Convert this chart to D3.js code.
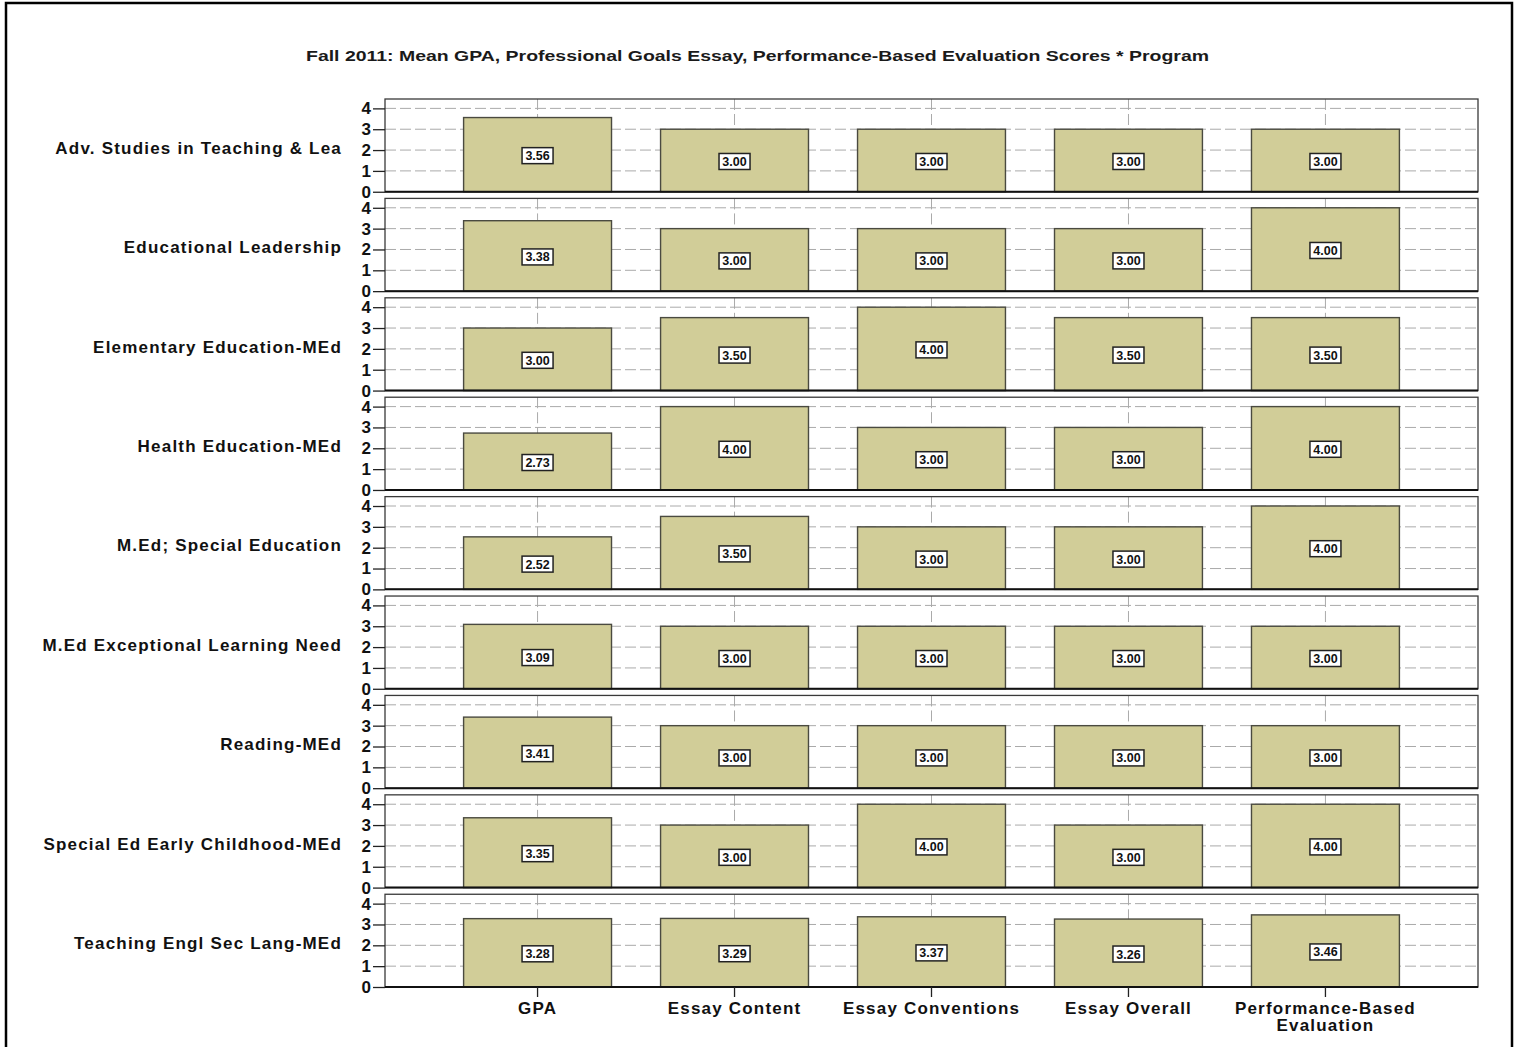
<!DOCTYPE html>
<html><head><meta charset="utf-8">
<script src="https://cdn.jsdelivr.net/npm/d3@7"></script>
<style>body{margin:0;background:#fff}svg{display:block}text{font-family:"Liberation Sans",Arial,sans-serif}</style>
</head><body>
<svg id="c" width="1520" height="1047"></svg>
<script>
const programs = ["Adv. Studies in Teaching & Lea","Educational Leadership","Elementary Education-MEd","Health Education-MEd","M.Ed; Special Education","M.Ed Exceptional Learning Need","Reading-MEd","Special Ed Early Childhood-MEd","Teaching Engl Sec Lang-MEd"];
const measures = ["GPA","Essay Content","Essay Conventions","Essay Overall","Performance-Based Evaluation"];
const gpa = [3.56,3.38,3.00,2.73,2.52,3.09,3.41,3.35,3.28];
const essayContent = [3.00,3.00,3.50,4.00,3.50,3.00,3.00,3.00,3.29];
const essayConventions = [3.00,3.00,4.00,3.00,3.00,3.00,3.00,4.00,3.37];
const essayOverall = [3.00,3.00,3.50,3.00,3.00,3.00,3.00,3.00,3.26];
const performanceBased = [3.00,4.00,3.50,4.00,4.00,3.00,3.00,4.00,3.46];
const yTicks = [0,1,2,3,4];
const title = "Fall 2011: Mean GPA, Professional Goals Essay, Performance-Based Evaluation Scores * Program";

const series = [gpa, essayContent, essayConventions, essayOverall, performanceBased];
const svg = d3.select("#c");

// outer frame
svg.append("rect").attr("x",6).attr("y",3).attr("width",1506).attr("height",1070)
  .attr("fill","none").attr("stroke","#000").attr("stroke-width",2.5);

svg.append("text").attr("x",306).attr("y",61).attr("text-anchor","start")
  .attr("font-size",15.5).attr("font-weight","bold").attr("fill","#1a1a1a")
  .attr("textLength",903).attr("lengthAdjust","spacingAndGlyphs").text(title);

const left = 385, right = 1478;
const rowScale = d3.scaleBand().domain(programs).range([99,987]).paddingInner(0.067).paddingOuter(0);
const x = d3.scaleBand().domain(measures).range([left,right]).paddingInner(0.249).paddingOuter(0.399);
const ph = rowScale.bandwidth();
const y = d3.scaleLinear().domain([0,4.45]).range([ph,0]);

programs.forEach((p,i)=>{
  const g = svg.append("g").attr("transform",`translate(0,${rowScale(p)})`);
  // gridlines
  g.selectAll(".hg").data(yTicks.slice(1)).join("line")
    .attr("x1",left).attr("x2",right).attr("y1",d=>y(d)).attr("y2",d=>y(d))
    .attr("stroke","#aaaaaa").attr("stroke-width",1).attr("stroke-dasharray","11,4");
  g.selectAll(".vg").data(measures).join("line")
    .attr("x1",d=>x(d)+x.bandwidth()/2).attr("x2",d=>x(d)+x.bandwidth()/2)
    .attr("y1",0).attr("y2",ph)
    .attr("stroke","#aaaaaa").attr("stroke-width",1).attr("stroke-dasharray","11,4");
  // bars
  const vals = measures.map((m,j)=>({m, v: series[j][i]}));
  g.selectAll(".bar").data(vals).join("rect")
    .attr("x",d=>x(d.m)).attr("width",x.bandwidth())
    .attr("y",d=>y(d.v)).attr("height",d=>y(0)-y(d.v))
    .attr("fill","#d1cd98").attr("stroke","#4a4a40").attr("stroke-width",1.4);
  // labels
  const lg = g.selectAll(".lbl").data(vals).join("g")
    .attr("transform",d=>`translate(${x(d.m)+x.bandwidth()/2},${(y(d.v)+y(0))/2+1})`);
  lg.append("rect").attr("x",-15.5).attr("y",-8).attr("width",31).attr("height",16)
    .attr("fill","#fff").attr("stroke","#222").attr("stroke-width",1.5);
  lg.append("text").attr("text-anchor","middle").attr("y",4.5)
    .attr("font-size",12.5).attr("font-weight","bold").attr("fill","#111")
    .text(d=>d.v.toFixed(2));
  // panel border
  g.append("rect").attr("x",left).attr("y",0).attr("width",right-left).attr("height",ph)
    .attr("fill","none").attr("stroke","#3a3a3a").attr("stroke-width",1.3);
  g.append("line").attr("x1",left).attr("x2",right).attr("y1",ph).attr("y2",ph)
    .attr("stroke","#111").attr("stroke-width",2);
  // y axis
  const ax = g.append("g").attr("transform",`translate(${left},0)`)
    .call(d3.axisLeft(y).tickValues(yTicks).tickSize(12).tickPadding(2).tickFormat(d3.format("d")));
  ax.select(".domain").remove();
  ax.selectAll(".tick line").attr("stroke","#222").attr("stroke-width",1.3);
  ax.selectAll(".tick text").attr("font-size",17).attr("font-weight","bold").attr("fill","#111")
    .attr("font-family","Liberation Sans, Arial, sans-serif");
  // row label
  g.append("text").attr("x",342).attr("y",ph/2+8.5).attr("text-anchor","end")
    .attr("font-size",17).attr("font-weight","bold").attr("fill","#111")
    .attr("letter-spacing","1.2px").text(p);
});

// bottom x axis
const bottom = rowScale(programs[programs.length-1]) + ph;
const xa = svg.append("g").attr("transform",`translate(0,${bottom})`)
  .call(d3.axisBottom(x).tickSize(10).tickPadding(6).tickFormat(""));
xa.select(".domain").remove();
xa.selectAll(".tick line").attr("stroke","#222").attr("stroke-width",1.3);
xa.selectAll(".tick").each(function(d){
  const t = d3.select(this).append("text").attr("text-anchor","middle")
    .attr("font-size",17).attr("font-weight","bold").attr("fill","#111")
    .attr("letter-spacing","1.2px")
    .attr("font-family","Liberation Sans, Arial, sans-serif");
  const lines = d === "Performance-Based Evaluation" ? ["Performance-Based","Evaluation"] : [d];
  lines.forEach((l,k)=>t.append("tspan").attr("x",0).attr("y",27+k*17).text(l));
});
</script>
</body></html>
